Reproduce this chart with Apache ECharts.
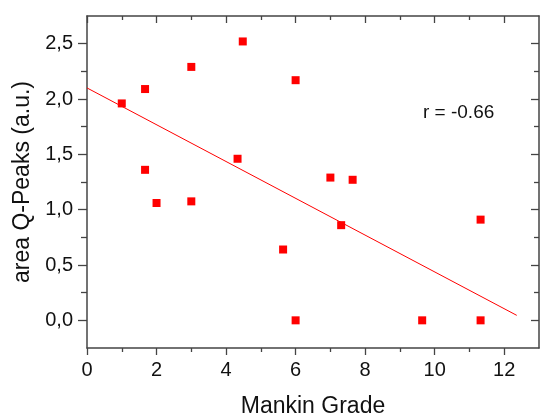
<!DOCTYPE html>
<html>
<head>
<meta charset="utf-8">
<script src="https://cdn.jsdelivr.net/npm/echarts@6/dist/echarts.min.js"></script>
<style>
  html, body { margin: 0; padding: 0; background: #fff; }
  #main { width: 540px; height: 414px; }
</style>
</head>
<body>
<div id="main"></div>
<script>
// measured points (Mankin grade vs. area of Q-peaks)
const grade = [1, 1.67, 3, 4.48, 4.33, 1.67, 6, 7, 7.64, 2, 3, 7.31, 5.64, 6, 11.32, 9.64, 11.32];
const area = [1.96, 2.09, 2.29, 2.52, 1.46, 1.36, 2.17, 1.29, 1.27, 1.06, 1.075, 0.86, 0.64, 0.0, 0.91, 0.0, 0.0];

// ends of the linear fit
const fitX = [0, 12.36];
const fitY = [2.10, 0.045];

const xMajor = [0, 2, 4, 6, 8, 10, 12];
const xMinor = [1, 3, 5, 7, 9, 11];
const yMajor = [0, 0.5, 1.0, 1.5, 2.0, 2.5];
const yMinor = [0.25, 0.75, 1.25, 1.75, 2.25];

const rText = "r = -0.66";

const font = "Liberation Sans, Arial, sans-serif";
const axisColor = "#444";

// extra axes only used to draw the frame and its ticks
function frameAxis(pos, ticks, len, inside, withLine) {
  const vertical = pos === "left" || pos === "right";
  return {
    type: "value",
    position: pos,
    min: vertical ? -0.25 : 0,
    max: vertical ? 2.75 : 13,
    axisLine: { show: withLine, onZero: false, lineStyle: { color: axisColor, width: 1.5 } },
    axisTick: { show: true, inside: inside, length: len, customValues: ticks,
      lineStyle: { color: axisColor, width: 1.3 } },
    axisLabel: { show: false },
    splitLine: { show: false },
  };
}

const pts = grade.map((g, i) => [g, area[i]]);
const fit = fitX.map((x, i) => [x, fitY[i]]);

const chart = echarts.init(document.getElementById("main"));
chart.setOption({
  backgroundColor: "#fff",
  animation: false,
  grid: { left: 87, top: 16, right: 1, bottom: 66, containLabel: false, outerBoundsMode: "none" },
  xAxis: [
    {
      type: "value",
      position: "bottom",
      min: 0,
      max: 13,
      name: "Mankin Grade",
      nameLocation: "middle",
      nameGap: 47,
      nameTextStyle: { fontFamily: font, fontSize: 23, color: "#111" },
      axisLine: { show: true, onZero: false, lineStyle: { color: axisColor, width: 1.5 } },
      axisTick: { show: true, inside: false, length: 7, customValues: xMajor,
        lineStyle: { color: axisColor, width: 1.3 } },
      axisLabel: { show: true, customValues: xMajor, margin: 12,
        fontFamily: font, fontSize: 20, color: "#111" },
      splitLine: { show: false },
    },
    frameAxis("top", xMajor, 7, true, true),
    frameAxis("bottom", xMinor, 4, false, false),
    frameAxis("top", xMinor, 4, true, false),
  ],
  yAxis: [
    {
      type: "value",
      position: "left",
      min: -0.25,
      max: 2.75,
      name: "area Q-Peaks (a.u.)",
      nameLocation: "middle",
      nameGap: 43,
      nameTextStyle: { fontFamily: font, fontSize: 23, color: "#111" },
      axisLine: { show: true, onZero: false, lineStyle: { color: axisColor, width: 1.5 } },
      axisTick: { show: true, inside: false, length: 9, customValues: yMajor,
        lineStyle: { color: axisColor, width: 1.3 } },
      axisLabel: { show: true, customValues: yMajor, margin: 14,
        fontFamily: font, fontSize: 20, color: "#111",
        formatter: (v) => v.toFixed(1).replace(".", ",") },
      splitLine: { show: false },
    },
    frameAxis("right", yMajor, 8, true, true),
    frameAxis("left", yMinor, 6, false, false),
    frameAxis("right", yMinor, 5, true, false),
  ],
  series: [
    {
      type: "line",
      data: fit,
      symbol: "none",
      lineStyle: { color: "#ff0000", width: 1 },
      z: 2,
    },
    {
      type: "scatter",
      data: pts,
      symbol: "rect",
      symbolSize: 8,
      itemStyle: { color: "#ff0000", opacity: 1 },
      z: 3,
    },
  ],
  graphic: [
    {
      type: "text",
      x: 423,
      y: 113,
      style: { text: rText, fontFamily: font, fontSize: 19, fill: "#111",
        verticalAlign: "middle" },
    },
  ],
});
</script>
</body>
</html>
